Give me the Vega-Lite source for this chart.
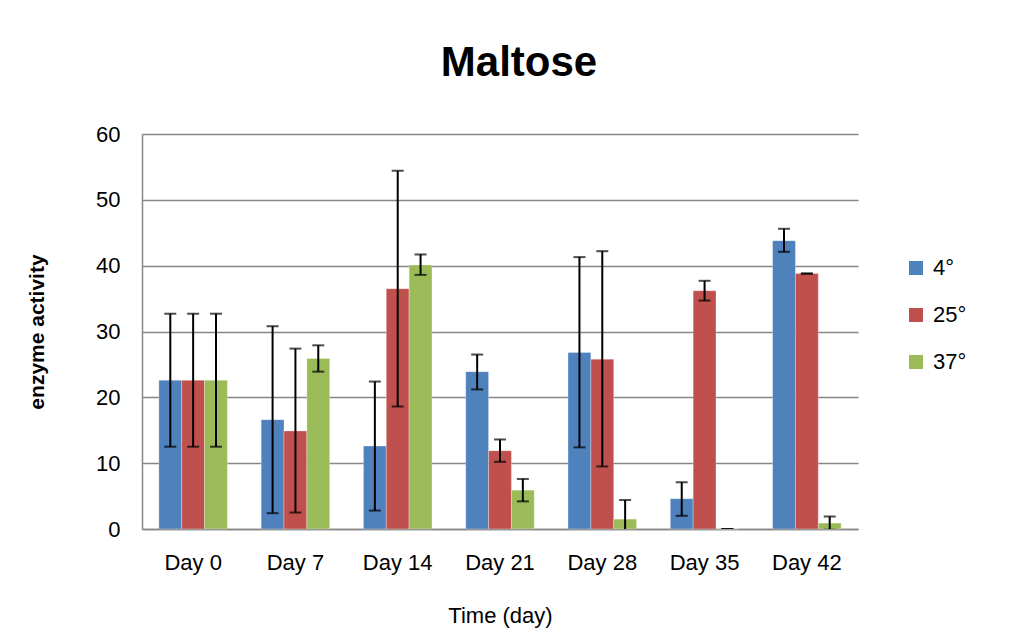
{
  "$schema": "https://vega.github.io/schema/vega-lite/v6.json",
  "autosize": {"type": "none"},
  "width": 716,
  "height": 395,
  "padding": {"left": 142, "top": 134, "right": 158, "bottom": 111},
  "background": "white",
  "config": {
    "view": {"stroke": null},
    "font": "Liberation Sans",
    "axis": {"labelFont": "Liberation Sans", "titleFont": "Liberation Sans", "labelColor": "black", "titleColor": "black"}
  },
  "title": {
    "text": "Maltose",
    "fontSize": 42,
    "fontWeight": "bold",
    "font": "Liberation Sans",
    "color": "black",
    "anchor": "middle",
    "frame": "group",
    "baseline": "alphabetic",
    "offset": 5,
    "dx": 19
  },
  "data": {
    "values": [
      {"day": "Day 0", "temp": "4°", "value": 22.6, "lo": 12.5, "hi": 32.7},
      {"day": "Day 0", "temp": "25°", "value": 22.6, "lo": 12.5, "hi": 32.7},
      {"day": "Day 0", "temp": "37°", "value": 22.6, "lo": 12.5, "hi": 32.7},
      {"day": "Day 7", "temp": "4°", "value": 16.6, "lo": 2.4, "hi": 30.8},
      {"day": "Day 7", "temp": "25°", "value": 14.9, "lo": 2.5, "hi": 27.4},
      {"day": "Day 7", "temp": "37°", "value": 25.9, "lo": 23.9, "hi": 27.9},
      {"day": "Day 14", "temp": "4°", "value": 12.6, "lo": 2.8, "hi": 22.4},
      {"day": "Day 14", "temp": "25°", "value": 36.5, "lo": 18.6, "hi": 54.4},
      {"day": "Day 14", "temp": "37°", "value": 40.1, "lo": 38.6, "hi": 41.7},
      {"day": "Day 21", "temp": "4°", "value": 23.9, "lo": 21.2, "hi": 26.5},
      {"day": "Day 21", "temp": "25°", "value": 11.9, "lo": 10.2, "hi": 13.6},
      {"day": "Day 21", "temp": "37°", "value": 5.9, "lo": 4.2, "hi": 7.6},
      {"day": "Day 28", "temp": "4°", "value": 26.8, "lo": 12.4, "hi": 41.3},
      {"day": "Day 28", "temp": "25°", "value": 25.8, "lo": 9.5, "hi": 42.2},
      {"day": "Day 28", "temp": "37°", "value": 1.5, "lo": -1.4, "hi": 4.4},
      {"day": "Day 35", "temp": "4°", "value": 4.6, "lo": 2.0, "hi": 7.1},
      {"day": "Day 35", "temp": "25°", "value": 36.2, "lo": 34.7, "hi": 37.7},
      {"day": "Day 35", "temp": "37°", "value": 0, "lo": 0, "hi": 0},
      {"day": "Day 42", "temp": "4°", "value": 43.8, "lo": 42.1, "hi": 45.6},
      {"day": "Day 42", "temp": "25°", "value": 38.8, "lo": 38.8, "hi": 38.8},
      {"day": "Day 42", "temp": "37°", "value": 0.9, "lo": -0.1, "hi": 1.9}
    ]
  },
  "encoding": {
    "x": {
      "field": "day",
      "type": "nominal",
      "sort": ["Day 0", "Day 7", "Day 14", "Day 21", "Day 28", "Day 35", "Day 42"],
      "scale": {"paddingInner": 0.33, "paddingOuter": 0.165},
      "axis": {
        "title": "Time (day)",
        "titleFontSize": 22,
        "titleFontWeight": "normal",
        "titlePadding": 32,
        "labelFontSize": 22,
        "labelAngle": 0,
        "labelPadding": 23,
        "ticks": false,
        "domainColor": "#868686",
        "domainWidth": 1.5
      }
    },
    "xOffset": {
      "field": "temp",
      "type": "nominal",
      "sort": ["4°", "25°", "37°"],
      "scale": {"paddingInner": 0, "paddingOuter": 0}
    }
  },
  "layer": [
    {
      "mark": {"type": "bar", "stroke": "white", "strokeWidth": 0.5, "strokeOpacity": 0.6},
      "encoding": {
        "y": {
          "field": "value",
          "type": "quantitative",
          "scale": {"domain": [0, 60], "nice": false},
          "axis": {
            "title": "enzyme activity",
            "titleFontSize": 21,
            "titleFontWeight": "bold",
            "titlePadding": 48,
            "values": [0, 10, 20, 30, 40, 50, 60],
            "labelFontSize": 22,
            "labelPadding": 22,
            "ticks": false,
            "grid": true,
            "gridColor": "#868686",
            "gridWidth": 1.5,
            "domainColor": "#868686",
            "domainWidth": 1.5
          }
        },
        "color": {
          "field": "temp",
          "type": "nominal",
          "sort": ["4°", "25°", "37°"],
          "scale": {"domain": ["4°", "25°", "37°"], "range": ["#4F81BD", "#C0504D", "#9BBB59"]},
          "legend": {
            "title": null,
            "orient": "none",
            "legendX": 763,
            "legendY": 123,
            "symbolType": "square",
            "symbolSize": 196,
            "symbolStrokeWidth": 0,
            "labelFontSize": 22,
            "labelFont": "Liberation Sans",
            "labelColor": "black",
            "rowPadding": 25,
            "labelOffset": 6
          }
        }
      }
    },
    {
      "mark": {"type": "rule", "color": "black", "strokeWidth": 2, "clip": true},
      "encoding": {
        "y": {"field": "lo", "type": "quantitative"},
        "y2": {"field": "hi"}
      }
    },
    {
      "mark": {"type": "tick", "color": "black", "thickness": 2, "size": 12, "clip": true, "orient": "horizontal"},
      "encoding": {
        "y": {"field": "lo", "type": "quantitative"}
      }
    },
    {
      "mark": {"type": "tick", "color": "black", "thickness": 2, "size": 12, "clip": true, "orient": "horizontal"},
      "encoding": {
        "y": {"field": "hi", "type": "quantitative"}
      }
    }
  ]
}
